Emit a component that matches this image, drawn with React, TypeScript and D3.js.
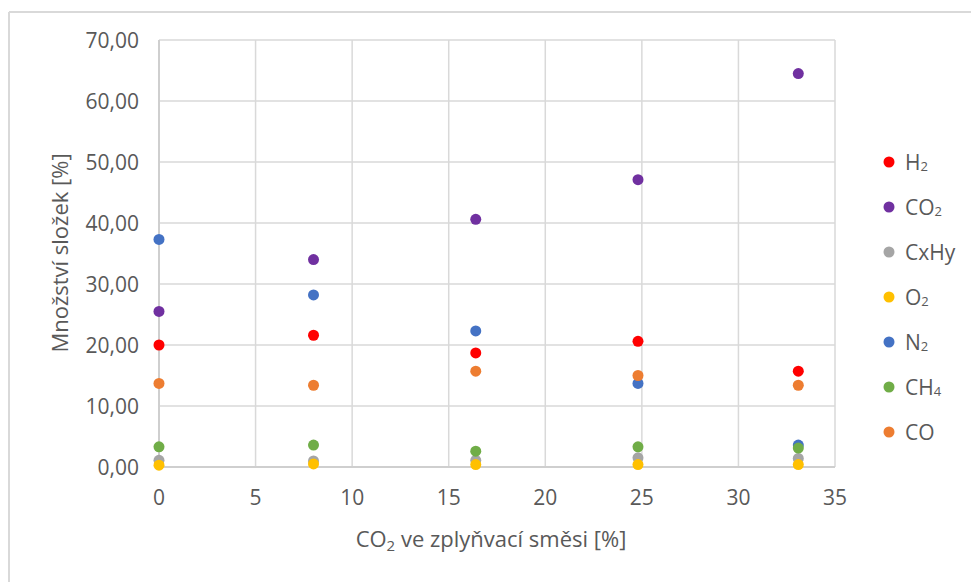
import React from "react";
import * as d3 from "d3";

const xValues = [0, 8, 16.4, 24.8, 33.1];
const seriesNames = ["H2", "CO2", "CxHy", "O2", "N2", "CH4", "CO"];
const seriesLabels: [string, string][] = [
  ["H", "2"],
  ["CO", "2"],
  ["CxHy", ""],
  ["O", "2"],
  ["N", "2"],
  ["CH", "4"],
  ["CO", ""],
];
const seriesColors = ["#FF0000", "#7030A0", "#A5A5A5", "#FFC000", "#4472C4", "#70AD47", "#ED7D31"];
const H2 = [20.0, 21.6, 18.7, 20.6, 15.7];
const CO2 = [25.5, 34.0, 40.6, 47.1, 64.5];
const CxHy = [1.1, 1.0, 1.1, 1.5, 1.4];
const O2 = [0.3, 0.5, 0.4, 0.4, 0.4];
const N2 = [37.3, 28.2, 22.3, 13.7, 3.6];
const CH4 = [3.3, 3.6, 2.6, 3.3, 3.1];
const CO = [13.7, 13.4, 15.7, 15.0, 13.4];
const seriesValues = [H2, CO2, CxHy, O2, N2, CH4, CO];
const xTicks = [0, 5, 10, 15, 20, 25, 30, 35];
const yTicks = [0, 10, 20, 30, 40, 50, 60, 70];
const xTitle: [string, string, string] = ["CO", "2", " ve zplyňvací směsi [%]"];
const yTitle = "Množství složek [%]";

const W = 971;
const H = 582;
const FONT = "'Open Sans', 'Noto Sans', sans-serif";
const TEXT = "#595959";

export default function App() {
  const x = d3.scaleLinear().domain([0, 35]).range([159, 835]);
  const y = d3.scaleLinear().domain([0, 70]).range([467, 40]);
  const fmt = (v: number) => d3.format(".2f")(v).replace(".", ",");

  return (
    <svg
      width={W}
      height={H}
      style={{ position: "absolute", left: 0, top: 0, display: "block", background: "#fff" }}
      fontFamily={FONT}
    >
      <rect x={0} y={0} width={W} height={H} fill="#fff" />
      {/* outer frame */}
      <line x1={9} y1={12} x2={W} y2={12} stroke="#d9d9d9" strokeWidth={2} />
      <line x1={9} y1={12} x2={9} y2={H} stroke="#d9d9d9" strokeWidth={2} />

      {/* gridlines */}
      {yTicks.map((t) => (
        <line key={"gy" + t} x1={x(0)} x2={x(35)} y1={y(t)} y2={y(t)} stroke="#d9d9d9" strokeWidth={1.5} />
      ))}
      {xTicks.map((t) => (
        <line key={"gx" + t} x1={x(t)} x2={x(t)} y1={y(0)} y2={y(70)} stroke="#d9d9d9" strokeWidth={1.5} />
      ))}
      {/* axes */}
      <line x1={x(0)} x2={x(35)} y1={y(0)} y2={y(0)} stroke="#cfcfcf" strokeWidth={2} />
      <line x1={x(0)} x2={x(0)} y1={y(0)} y2={y(70)} stroke="#cfcfcf" strokeWidth={2} />

      {/* y tick labels */}
      {yTicks.map((t) => (
        <text key={"ly" + t} x={139} y={y(t)} dy="0.36em" textAnchor="end" fontSize={21} fill={TEXT}>
          {fmt(t)}
        </text>
      ))}
      {/* x tick labels */}
      {xTicks.map((t) => (
        <text key={"lx" + t} x={x(t)} y={505} textAnchor="middle" fontSize={21} fill={TEXT}>
          {t}
        </text>
      ))}

      {/* axis titles */}
      <text x={491} y={547} textAnchor="middle" fontSize={22} fill={TEXT}>
        {xTitle[0]}
        <tspan fontSize={15} dy={4}>
          {xTitle[1]}
        </tspan>
        <tspan dy={-4}>{xTitle[2]}</tspan>
      </text>
      <text transform={`translate(68,253) rotate(-90)`} textAnchor="middle" fontSize={22} fill={TEXT}>
        {yTitle}
      </text>

      {/* points */}
      {seriesValues.map((vals, si) => (
        <g key={"s" + si}>
          {vals.map((v, i) => (
            <circle key={i} cx={x(xValues[i])} cy={y(v)} r={5.5} fill={seriesColors[si]} />
          ))}
        </g>
      ))}

      {/* legend */}
      {seriesNames.map((n, i) => {
        const ly = 162 + i * 45;
        return (
          <g key={"lg" + n}>
            <circle cx={889} cy={ly} r={5.5} fill={seriesColors[i]} />
            <text x={905} y={ly} dy="0.36em" fontSize={21} fill={TEXT}>
              {seriesLabels[i][0]}
              {seriesLabels[i][1] ? (
                <tspan fontSize={13} dy={1}>
                  {seriesLabels[i][1]}
                </tspan>
              ) : null}
            </text>
          </g>
        );
      })}
    </svg>
  );
}
